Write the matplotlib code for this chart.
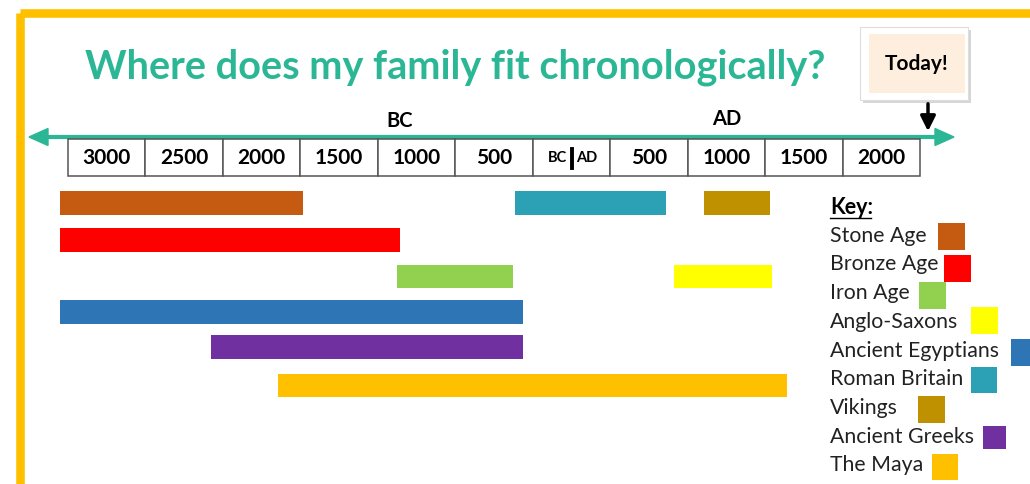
import numpy as np
import matplotlib.pyplot as plt
from matplotlib.patches import Rectangle, Polygon

plt.rcParams['font.family'] = ['Lato', 'DejaVu Sans']

# periods: name, start year, end year (BC negative), row on the chart
periods = ['Stone Age', 'Bronze Age', 'Iron Age', 'Anglo-Saxons', 'Ancient Egyptians',
           'Roman Britain', 'Vikings', 'Ancient Greeks', 'The Maya']
starts = [-3300, -3300, -1125, 660, -3300, -365, 855, -2325, -1895]
ends = [-1730, -1105, -375, 1295, -315, 610, 1280, -315, 1390]
rows = [0, 1, 2, 2, 3, 0, 0, 4, 5]
colors = ['#C55A11', '#FF0000', '#92D050', '#FFFF00', '#2E75B6',
          '#2CA1B5', '#BF9000', '#7030A0', '#FFC000']

tick_years = [-3000, -2500, -2000, -1500, -1000, -500, 0, 500, 1000, 1500, 2000]
tick_labels = ['3000', '2500', '2000', '1500', '1000', '500', '', '500', '1000', '1500', '2000']

teal = '#2BB795'
W, H = 1030, 484
fig = plt.figure(figsize=(W / 100, H / 100), dpi=100)

# pixel axes for decorations
deco = fig.add_axes([0, 0, 1, 1])
deco.set_xlim(0, W)
deco.set_ylim(H, 0)
deco.axis('off')

# data axes: x in years, y in pixel rows
ax = fig.add_axes([0, 0, 1, 1])
px0, scale = 571.5, 0.155
ax.set_xlim(-px0 / scale, (W - px0) / scale)
ax.set_ylim(H, 0)
ax.axis('off')

# frame
deco.add_patch(Rectangle((19.5, 13), 1100, 600, fill=False, ec='#FFC000', lw=6.2))

deco.text(455, 67, 'Where does my family fit chronologically?', color=teal,
          fontsize=28.5, fontweight='bold', ha='center', va='center')

# timeline arrow
deco.plot([45, 940], [137, 137], color=teal, lw=3, solid_capstyle='butt')
deco.add_patch(Polygon([[29, 137], [48, 128.5], [48, 145.5]], color=teal))
deco.add_patch(Polygon([[954, 137], [935, 128.5], [935, 145.5]], color=teal))
deco.text(400, 121, 'BC', fontsize=14.5, fontweight='bold', ha='center', va='center')
deco.text(727, 119, 'AD', fontsize=14.5, fontweight='bold', ha='center', va='center')

# cells under the timeline
for yr, lab in zip(tick_years, tick_labels):
    ax.add_patch(Rectangle((yr - 250, 139), 500, 37, fc='white', ec='#555555', lw=1.1))
    if lab:
        ax.text(yr, 158, lab, fontsize=15, fontweight='bold', ha='center', va='center')
ax.text(-30, 158, 'BC', fontsize=10.5, fontweight='bold', ha='right', va='center')
ax.text(30, 158, 'AD', fontsize=10.5, fontweight='bold', ha='left', va='center')
ax.plot([0, 0], [149, 168], color='black', lw=2.8)

# period bars
row_y = [203, 240, 276.5, 312, 347, 385.5]
for s, e, r, c in zip(starts, ends, rows, colors):
    ax.barh(row_y[r], e - s, left=s, height=23.5, color=c)

# today box
deco.add_patch(Rectangle((863, 30), 108, 73, fc='#BBBBBB', ec='none', alpha=0.6))
deco.add_patch(Rectangle((860, 27), 108, 73, fc='white', ec='#DDDDDD', lw=0.8))
deco.add_patch(Rectangle((869, 34), 96, 59, fc='#FDEEDD', ec='none'))
deco.text(917, 64, 'Today!', fontsize=15, fontweight='bold', ha='center', va='center')
deco.annotate('', xy=(928, 134), xytext=(928, 101),
              arrowprops=dict(arrowstyle='-|>,head_length=0.9,head_width=0.45',
                              color='black', lw=2.5))

# key
deco.text(830, 207, 'Key:', fontsize=15.5, fontweight='bold', ha='left', va='center')
deco.plot([830, 871], [218, 218], color='black', lw=1)
key_text_y = [236, 264, 293, 322, 351, 379, 408, 437, 465]
key_box_x = [938, 944, 919, 971, 1011, 971, 918, 983, 932]
key_box_y = [236.5, 268, 295.5, 320, 352, 380, 409, 437, 467]
key_box_s = [27, 27, 27, 27, 27, 26, 27, 23, 26]
for name, c, ty, bx, by, bs in zip(periods, colors, key_text_y, key_box_x, key_box_y, key_box_s):
    deco.text(830, ty, name, fontsize=15.3, ha='left', va='center', color='#222222')
    deco.add_patch(Rectangle((bx, by - bs / 2), bs, bs, fc=c, ec='none'))

fig.savefig('out.png', dpi=100, facecolor='white')
